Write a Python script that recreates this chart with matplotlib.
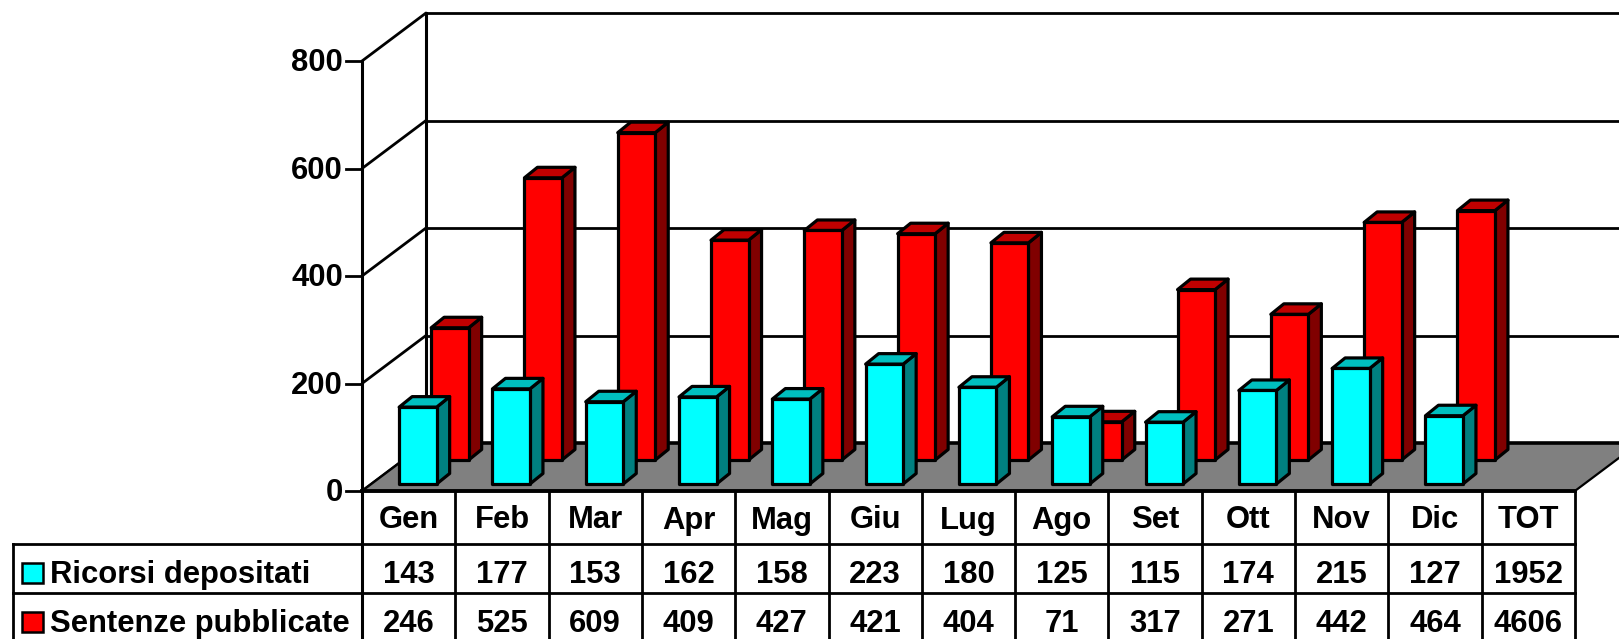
import matplotlib
matplotlib.use("Agg")
import matplotlib.pyplot as plt

plt.rcParams['font.family'] = ['Liberation Sans', 'DejaVu Sans']

months = ["Gen", "Feb", "Mar", "Apr", "Mag", "Giu", "Lug", "Ago", "Set", "Ott", "Nov", "Dic"]
col_labels = months + ["TOT"]
ricorsi = [143, 177, 153, 162, 158, 223, 180, 125, 115, 174, 215, 127]
sentenze = [246, 525, 609, 409, 427, 421, 404, 71, 317, 271, 442, 464]
ricorsi_row = ["143", "177", "153", "162", "158", "223", "180", "125", "115", "174", "215", "127", "1952"]
sentenze_row = ["246", "525", "609", "409", "427", "421", "404", "71", "317", "271", "442", "464", "4606"]
ticks = [0, 200, 400, 600, 800]

# pixel layout of the picture
W, H = 1619, 639
X0, COL = 362.0, 93.3     # left of the plot, width of one category
Y0, UNIT = 491.0, 0.5375  # pixel row of value 0, pixels per unit
FS = 22.3


def ux(px):
    return (px - X0) / COL


def uy(py):
    return (Y0 - py) / UNIT


DX, DY = 64 / COL, 48 / UNIT   # depth of the whole box
BAR_W = 37.5 / COL
BAR_DX, BAR_DY = 13 / COL, 10.5 / UNIT
LEFT_EDGE = ux(13)
ROWS = [uy(544.3), uy(593.3)]


def bar3d(ax, x, base, value, front, top, side, z, lw=2.3):
    # front face, top and side of one block
    y1 = base + value
    kw = dict(edgecolor='black', linewidth=lw, joinstyle='round', zorder=z)
    ax.fill([x + BAR_W, x + BAR_W + BAR_DX, x + BAR_W + BAR_DX, x + BAR_W],
            [base, base + BAR_DY, y1 + BAR_DY, y1], facecolor=side, **kw)
    ax.fill([x, x + BAR_DX, x + BAR_W + BAR_DX, x + BAR_W],
            [y1, y1 + BAR_DY, y1 + BAR_DY, y1], facecolor=top, **kw)
    ax.fill([x, x + BAR_W, x + BAR_W, x],
            [base, base, y1, y1], facecolor=front, **kw)


def main():
    fig = plt.figure(figsize=(W / 100, H / 100), dpi=100)
    ax = fig.add_axes([0, 0, 1, 1])
    ax.set_xlim(ux(0), ux(W))
    ax.set_ylim(uy(H), uy(0))
    ax.axis('off')

    n = len(col_labels)

    # walls and grid
    for t in ticks:
        ax.plot([0, DX], [t, t + DY], color='black', lw=2, solid_capstyle='round', zorder=1)
        ax.plot([DX, ux(W)], [t + DY, t + DY], color='black', lw=2, zorder=1)
        ax.plot([ux(346), 0], [t, t], color='black', lw=2, zorder=1)
        ax.text(ux(343), t - 10.4 / UNIT, str(t), ha='right', va='baseline',
                fontsize=FS, fontweight='bold')
    ax.plot([0, 0], [ticks[-1], uy(H)], color='black', lw=2.2, zorder=1)
    ax.plot([DX, DX], [DY, ticks[-1] + DY], color='black', lw=2.2, zorder=1)

    # floor
    ax.fill([0, n, n + DX, DX], [0, 0, DY, DY], facecolor='#808080', edgecolor='none', zorder=2)
    ax.plot([DX, ux(W)], [DY, DY], color='black', lw=2.6, zorder=3)
    ax.plot([0, DX], [0, DY], color='black', lw=1.6, zorder=3)
    ax.plot([n, n + DX], [0, DY], color='black', lw=1.6, zorder=3)

    # red row first, it stands behind the cyan one
    for i, v in enumerate(sentenze):
        bar3d(ax, i + 0.5 - 9.5 / COL + 32 / COL, 31 / UNIT, v, '#FF0000', '#C00000', '#800000', 4)
    for i, v in enumerate(ricorsi):
        bar3d(ax, i + 0.5 - 9.5 / COL, 7 / UNIT, v, '#00FFFF', '#00BFBF', '#008080', 5)

    # data table
    ax.plot([0, n], [0, 0], color='black', lw=2.8, zorder=6)
    for i in range(n + 1):
        ax.plot([i, i], [0, uy(H)], color='black', lw=2, zorder=6)
    for r in ROWS:
        ax.plot([LEFT_EDGE, n], [r, r], color='black', lw=2, zorder=6)
    ax.plot([LEFT_EDGE, LEFT_EDGE], [ROWS[0], uy(H)], color='black', lw=2, zorder=6)

    for i in range(n):
        ax.text(i + 0.5, uy(528.5), col_labels[i], ha='center', va='baseline',
                fontsize=FS, fontweight='bold')
        ax.text(i + 0.5, uy(582.7), ricorsi_row[i], ha='center', va='baseline',
                fontsize=FS, fontweight='bold')
        ax.text(i + 0.5, uy(631.7), sentenze_row[i], ha='center', va='baseline',
                fontsize=FS, fontweight='bold')

    # legend keys in the row headers
    for top_px, color, label, base_px in [(563, '#00FFFF', 'Ricorsi depositati', 582.7),
                                          (612, '#FF0000', 'Sentenze pubblicate', 631.7)]:
        ax.fill([ux(22), ux(42.5), ux(42.5), ux(22)],
                [uy(top_px), uy(top_px), uy(top_px + 20), uy(top_px + 20)],
                facecolor=color, edgecolor='black', linewidth=1.8, joinstyle='miter', zorder=6)
        ax.text(ux(50), uy(base_px), label, ha='left', va='baseline',
                fontsize=FS, fontweight='bold')

    fig.savefig("out.png", dpi=100)


if __name__ == "__main__":
    main()
